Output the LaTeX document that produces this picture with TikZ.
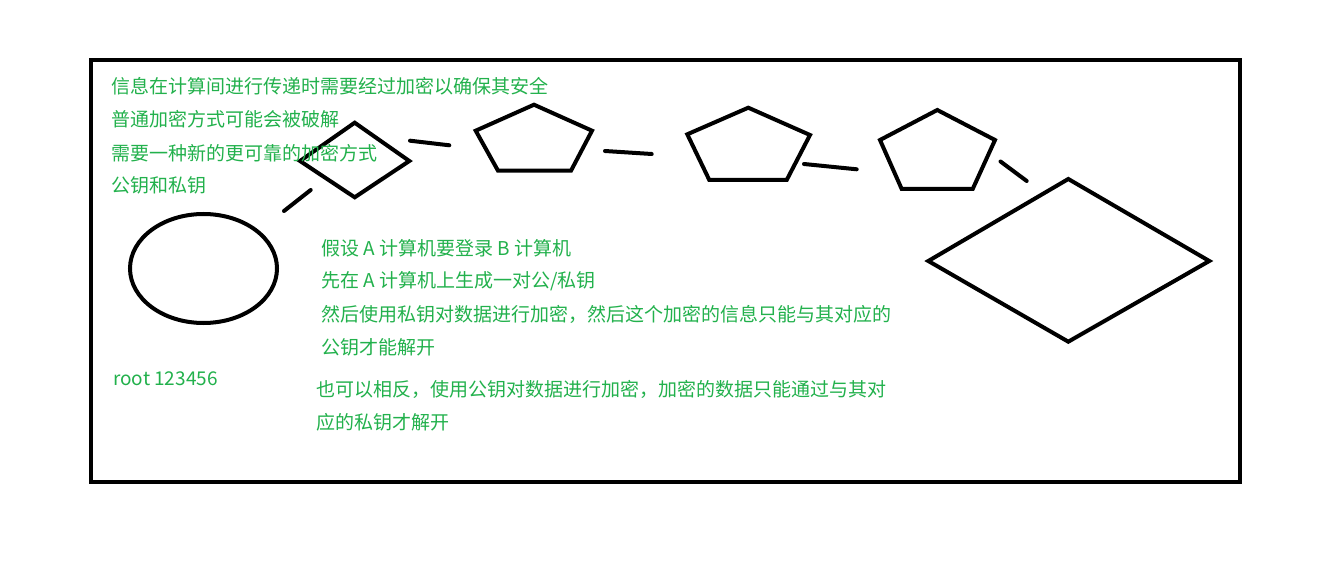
\documentclass[tikz,border=0pt]{standalone}
\usepackage{fontspec}
\setmainfont{Noto Sans CJK SC}
\definecolor{paintgreen}{RGB}{34,177,76}
\tikzset{
  shape line/.style={draw=black, line width=4pt, line join=miter},
  dash seg/.style={draw=black, line width=4pt, line cap=round},
  note/.style={anchor=west, inner sep=0pt, text=paintgreen, font=\fontsize{19}{22}\selectfont},
}
\begin{document}
\begin{tikzpicture}[x=1pt,y=-1pt]
\useasboundingbox[fill=white] (0,0) rectangle (1334,564);
% frame
\draw[shape line] (91,60) rectangle (1240,482);
% small diamond
\coordinate (sdT) at (354.7,122.7);
\coordinate (sdR) at (409.3,161);
\coordinate (sdB) at (354.7,197.3);
\coordinate (sdL) at (300,161);
\draw[shape line] (sdT) -- (sdR) -- (sdB) -- (sdL) -- cycle;
% ellipse
\draw[shape line] (203.5,268.5) ellipse [x radius=73.5, y radius=54.5];
% pentagon 1
\draw[shape line] (534,104.7) -- (592,130.7) -- (571,170.7) -- (498,170.7) -- (475.7,130.7) -- cycle;
% pentagon 2
\draw[shape line] (748.3,107.7) -- (810,135) -- (786.7,180) -- (709.3,180) -- (687.3,134.3) -- cycle;
% pentagon 3
\draw[shape line] (937.3,110) -- (995,140) -- (972.7,189) -- (901.7,189) -- (880,140) -- cycle;
% big diamond
\draw[shape line] (1068.3,179) -- (1209.3,261) -- (1068.3,341.7) -- (928.3,261) -- cycle;
% dashes
\coordinate (d1a) at (284,211); \coordinate (d1b) at (310.7,190);
\coordinate (d2a) at (410,140.7); \coordinate (d2b) at (449.3,145.3);
\coordinate (d3a) at (605,151); \coordinate (d3b) at (651.7,154);
\coordinate (d4a) at (804,164); \coordinate (d4b) at (856.7,169.3);
\coordinate (d5a) at (1000.5,161.5); \coordinate (d5b) at (1026.7,181);
\draw[dash seg] (d1a) -- (d1b);
\draw[dash seg] (d2a) -- (d2b);
\draw[dash seg] (d3a) -- (d3b);
\draw[dash seg] (d4a) -- (d4b);
\draw[dash seg] (d5a) -- (d5b);
% texts
\node[note] (t1) at (111,86) {信息在计算间进行传递时需要经过加密以确保其安全};
\node[note] (t2) at (111,119) {普通加密方式可能会被破解};
\node[note] (t3) at (111,153) {需要一种新的更可靠的加密方式};
\node[note] (t4) at (111,185) {公钥和私钥};
\node[note] (t5) at (113,379) {root 123456};
\node[note] (t6) at (321,248) {假设 A 计算机要登录 B 计算机};
\node[note] (t7) at (321,281) {先在 A 计算机上生成一对公/私钥};
\node[note] (t8) at (321,314) {然后使用私钥对数据进行加密，然后这个加密的信息只能与其对应的};
\node[note] (t9) at (321,347) {公钥才能解开};
\node[note] (t10) at (316,389) {也可以相反，使用公钥对数据进行加密，加密的数据只能通过与其对};
\node[note] (t11) at (316,422) {应的私钥才解开};
\end{tikzpicture}
\end{document}
